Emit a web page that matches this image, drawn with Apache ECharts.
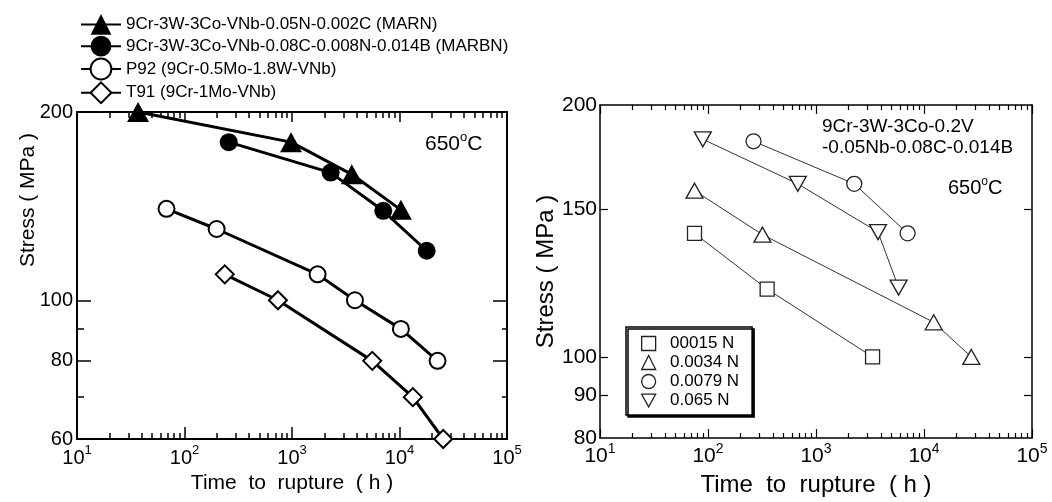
<!DOCTYPE html>
<html><head><meta charset="utf-8">
<script src="https://cdn.jsdelivr.net/npm/echarts@6/dist/echarts.min.js"></script>
<style>html,body{margin:0;padding:0;background:#fff}#c{width:1052px;height:502px}</style>
</head><body><div id="c"></div>
<script>
const FONT = '"Liberation Sans", Arial, Helvetica, sans-serif';

// ---------- Left panel data ----------
const leftNames = ['9Cr-3W-3Co-VNb-0.05N-0.002C (MARN)', '9Cr-3W-3Co-VNb-0.08C-0.008N-0.014B (MARBN)', 'P92 (9Cr-0.5Mo-1.8W-VNb)', 'T91 (9Cr-1Mo-VNb)'];
const marnTime = [37, 980, 3600, 10300];
const marnStress = [200, 179, 159, 139.5];
const marbnTime = [258, 2290, 7060, 17900];
const marbnStress = [179, 160, 139, 120];
const p92Time = [68, 199, 1730, 3850, 10300, 22600];
const p92Stress = [140, 130, 110, 100, 90, 80];
const t91Time = [237, 740, 5580, 13300, 25500];
const t91Stress = [110, 100, 80, 70, 60];

// ---------- Right panel data ----------
const rightNames = ['00015 N', '0.0034 N', '0.0079 N', '0.065 N'];
const n1Time = [75, 353, 3340];
const n1Stress = [140.5, 120.5, 100];
const n2Time = [75, 319, 12300, 27400];
const n2Stress = [158, 140, 110, 100];
const n3Time = [264, 2260, 7050];
const n3Stress = [181, 161, 140.5];
const n4Time = [89.5, 679, 3750, 5820];
const n4Stress = [182, 161, 141, 121];

// ---------- Tick values / labels ----------
const xDecades = [10, 100, 1000, 10000, 100000];
const xMinor = [20,30,40,50,60,70,80,90, 200,300,400,500,600,700,800,900, 2000,3000,4000,5000,6000,7000,8000,9000, 20000,30000,40000,50000,60000,70000,80000,90000];
const leftYLabels = [60, 80, 100, 200];
const leftYMajor = [80, 100];
const leftYMinor = [70, 90];
const rightYLabels = [80, 90, 100, 150, 200];
const rightYTicks = [90, 100, 150];

const zip = (a, b) => a.map((v, i) => [v, b[i]]);
const INV_TRI = 'path://M0,0L10,0L5,9Z';

function ax(grid, position, min, max, o) {
  return Object.assign({
    type: 'log', logBase: 10, gridIndex: grid, position: position, min: min, max: max,
    axisLine: { show: false },
    axisTick: { show: false },
    axisLabel: { show: false },
    splitLine: { show: false },
    minorTick: { show: false }
  }, o || {});
}
function line(w) { return { show: true, onZero: false, lineStyle: { color: '#000', width: w } }; }
function ticks(vals, len, w) { return { show: true, inside: true, length: len, customValues: vals, lineStyle: { color: '#000', width: w } }; }
const supRich = (fs, ss) => ({
  b: { fontSize: fs, fontFamily: FONT, color: '#000', lineHeight: fs + 4, verticalAlign: 'bottom' },
  s: { fontSize: ss, fontFamily: FONT, color: '#000', lineHeight: ss, verticalAlign: 'top' }
});
const xLabel = (fs, ss, margin) => ({
  show: true, customValues: xDecades, margin: margin,
  formatter: v => '{b|10}{s|' + Math.round(Math.log10(v)) + '}',
  rich: supRich(fs, ss)
});
const yLabel = (vals, fs, margin) => ({
  show: true, customValues: vals, margin: margin, fontSize: fs, fontFamily: FONT, color: '#000',
  formatter: v => String(Math.round(v))
});

const xAxis = [
  ax(0, 'bottom', 10, 100000, { axisLine: line(2), axisTick: ticks(xDecades, 12, 1.5), axisLabel: xLabel(20, 13, 5),
    name: 'Time  to  rupture  ( h )', nameLocation: 'middle', nameGap: 33,
    nameTextStyle: { fontSize: 21, fontFamily: FONT, color: '#000' } }),
  ax(0, 'bottom', 10, 100000, { axisTick: ticks(xMinor, 6, 1.5) }),
  ax(0, 'top', 10, 100000, { axisLine: line(2), axisTick: ticks(xDecades, 10, 1.5) }),
  ax(0, 'top', 10, 100000, { axisTick: ticks(xMinor, 6, 1.5) }),
  ax(1, 'bottom', 10, 100000, { axisLine: line(1.5), axisTick: ticks(xDecades, 9, 1.2), axisLabel: xLabel(21, 14, 4),
    name: 'Time  to  rupture  ( h )', nameLocation: 'middle', nameGap: 35,
    nameTextStyle: { fontSize: 24, fontFamily: FONT, color: '#000' } }),
  ax(1, 'bottom', 10, 100000, { axisTick: ticks(xMinor, 5, 1.2) }),
  ax(1, 'top', 10, 100000, { axisLine: line(1.5), axisTick: ticks(xDecades, 9, 1.2) }),
  ax(1, 'top', 10, 100000, { axisTick: ticks(xMinor, 5, 1.2) })
];
const yAxis = [
  ax(0, 'left', 60, 200, { axisLine: line(2), axisTick: ticks(leftYMajor, 14, 1.5), axisLabel: yLabel(leftYLabels, 20, 4) }),
  ax(0, 'left', 60, 200, { axisTick: ticks(leftYMinor, 7, 1.5) }),
  ax(0, 'right', 60, 200, { axisLine: line(2), axisTick: ticks(leftYMajor, 14, 1.5) }),
  ax(0, 'right', 60, 200, { axisTick: ticks(leftYMinor, 5, 1.5) }),
  ax(1, 'left', 80, 200, { axisLine: line(1.5), axisTick: ticks(rightYTicks, 8, 1.2), axisLabel: yLabel(rightYLabels, 21, 3),
    name: 'Stress ( MPa )', nameLocation: 'middle', nameGap: 28,
    nameTextStyle: { fontSize: 24, fontFamily: FONT, color: '#000' } }),
  ax(1, 'right', 80, 200, { axisLine: line(1.5), axisTick: ticks(rightYTicks, 8, 1.2) })
];

function leftSeries(name, t, s, symbol, size, fill, bw) {
  return {
    type: 'line', name: name, xAxisIndex: 0, yAxisIndex: 0, data: zip(t, s),
    symbol: symbol, symbolSize: size, showAllSymbol: true, animation: false,
    lineStyle: { color: '#000', width: 3 },
    itemStyle: { color: fill, borderColor: '#000', borderWidth: bw }
  };
}
function rightSeries(name, t, s, symbol, size) {
  return {
    type: 'line', name: name, xAxisIndex: 4, yAxisIndex: 4, data: zip(t, s),
    symbol: symbol, symbolSize: size, showAllSymbol: true, animation: false,
    lineStyle: { color: '#333', width: 1 },
    itemStyle: { color: '#fff', borderColor: '#222', borderWidth: 1.3 }
  };
}

const series = [
  leftSeries(leftNames[0], marnTime, marnStress, 'triangle', [22, 20], '#000', 0),
  leftSeries(leftNames[1], marbnTime, marbnStress, 'circle', 18, '#000', 0),
  leftSeries(leftNames[2], p92Time, p92Stress, 'circle', 16, '#fff', 2),
  leftSeries(leftNames[3], t91Time, t91Stress, 'diamond', 18, '#fff', 2),
  rightSeries(rightNames[0], n1Time, n1Stress, 'rect', 14),
  rightSeries(rightNames[1], n2Time, n2Stress, 'triangle', [17, 15]),
  rightSeries(rightNames[2], n3Time, n3Stress, 'circle', 15),
  rightSeries(rightNames[3], n4Time, n4Stress, INV_TRI, [17, 15])
];

const legStyle = { color: '#fff', borderColor: '#222', borderWidth: 1.3 };
const rightIcons = ['rect', 'triangle', 'circle', INV_TRI];

const option = {
  backgroundColor: '#fff',
  animation: false,
  grid: [
    { left: 77, top: 112, width: 430, height: 327 },
    { left: 600, top: 105, width: 432, height: 337 }
  ],
  xAxis: xAxis,
  yAxis: yAxis,
  legend: [
    { data: leftNames, orient: 'vertical', left: 80, top: 14, itemWidth: 40, itemHeight: 26, itemGap: 1,
      padding: 0, selectedMode: false,
      textStyle: { fontSize: 17, fontFamily: FONT, color: '#000' } },
    { data: rightNames.map((n, i) => ({ name: n, icon: rightIcons[i], itemStyle: legStyle })),
      formatter: n => '  ' + n,
      orient: 'vertical', left: 626, top: 327, itemWidth: 14, itemHeight: 14, itemGap: 0,
      padding: [7, 13, 5, 15], selectedMode: false,
      borderColor: '#000', borderWidth: 1.5, backgroundColor: '#fff',
      shadowColor: '#000', shadowOffsetX: 2, shadowOffsetY: 2, shadowBlur: 0,
      textStyle: { fontSize: 17, fontFamily: FONT, color: '#000', lineHeight: 19 } }
  ],
  graphic: [
    { type: 'text', x: 28, y: 200, rotation: Math.PI / 2,
      style: { text: 'Stress ( MPa )', fontSize: 21, fontFamily: FONT, fill: '#000', align: 'center', verticalAlign: 'middle' } },
    { type: 'text', x: 425, y: 143,
      style: { text: '{a|650}{s|o}{a|C}', align: 'left', verticalAlign: 'middle',
        rich: { a: { fontSize: 21, fontFamily: FONT, fill: '#000', lineHeight: 24, verticalAlign: 'bottom' },
                s: { fontSize: 13, fontFamily: FONT, fill: '#000', lineHeight: 13, verticalAlign: 'top' } } } },
    { type: 'text', x: 822, y: 127,
      style: { text: '9Cr-3W-3Co-0.2V', fontSize: 19, fontFamily: FONT, fill: '#000', align: 'left', verticalAlign: 'middle' } },
    { type: 'text', x: 822, y: 148,
      style: { text: '-0.05Nb-0.08C-0.014B', fontSize: 19, fontFamily: FONT, fill: '#000', align: 'left', verticalAlign: 'middle' } },
    { type: 'text', x: 948, y: 187,
      style: { text: '{a|650}{s|o}{a|C}', align: 'left', verticalAlign: 'middle',
        rich: { a: { fontSize: 20, fontFamily: FONT, fill: '#000', lineHeight: 23, verticalAlign: 'bottom' },
                s: { fontSize: 12, fontFamily: FONT, fill: '#000', lineHeight: 12, verticalAlign: 'top' } } } }
  ],
  series: series
};

const chart = echarts.init(document.getElementById('c'), null, { renderer: 'canvas' });
chart.setOption(option);
</script>
</body></html>
